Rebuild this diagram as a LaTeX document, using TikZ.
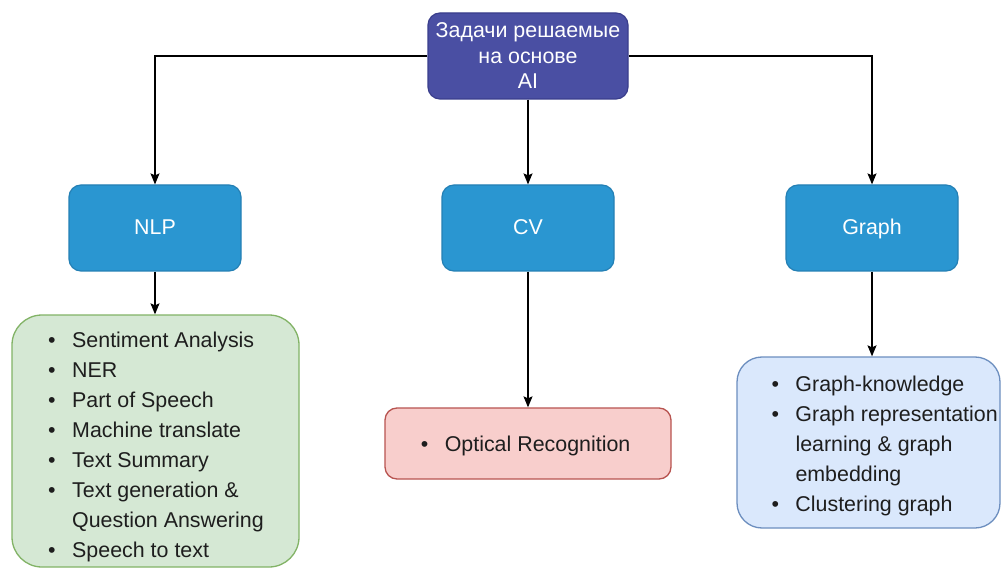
\documentclass[tikz,border=0pt]{standalone}
\usepackage{fontspec}
\setmainfont{Liberation Sans}
\usetikzlibrary{arrows.meta}
\definecolor{aifill}{HTML}{4A4FA3}
\definecolor{aidraw}{HTML}{3A3E8C}
\definecolor{catfill}{HTML}{2A96D1}
\definecolor{catdraw}{HTML}{2480B5}
\definecolor{greenfill}{HTML}{D5E8D4}
\definecolor{greendraw}{HTML}{82B366}
\definecolor{redfill}{HTML}{F8CECC}
\definecolor{reddraw}{HTML}{B85450}
\definecolor{bluefill}{HTML}{DAE8FC}
\definecolor{bluedraw}{HTML}{6C8EBF}
\definecolor{txt}{HTML}{1E1E1E}
\newcommand\bul{\makebox[24pt][l]{•}}
\newcommand\cont{\hspace*{24pt}}
\tikzset{
  rootbox/.style={draw=aidraw, fill=aifill, line width=1.2pt, rounded corners=12pt,
    minimum width=200pt, minimum height=86pt, text=white, align=center,
    font=\fontsize{21.4}{25.5}\selectfont},
  catbox/.style={draw=catdraw, fill=catfill, line width=1.2pt, rounded corners=12pt,
    minimum width=172pt, minimum height=86pt, text=white,
    text height=13pt, text depth=0pt,
    font=\fontsize{21.4}{25}\selectfont},
  listbox/.style={line width=1.3pt, inner sep=0pt},
  listtext/.style={anchor=west, inner sep=0pt, align=left, text=txt,
    font=\fontsize{21.4}{30}\selectfont},
  link/.style={draw=black, line width=1.2pt,
    -{Stealth[length=11pt, width=9pt, inset=2pt]}}
}
\begin{document}
\begin{tikzpicture}[x=1pt, y=-1pt]
\useasboundingbox (0,0) rectangle (1001,569);
\fill[white] (0,0) rectangle (1001,569);

% top level
\node[rootbox] (ai) at (528,56) {Задачи решаемые\\на основе\\AI};

% categories
\node[catbox] (nlp) at (155,228) {NLP};
\node[catbox] (cv) at (528,228) {CV};
\node[catbox] (graph) at (872,228) {Graph};

% task lists
\node[listbox, draw=greendraw, fill=greenfill, rounded corners=30pt,
  minimum width=287pt, minimum height=252pt] (nlpbox) at (155.5,441) {};
\node[listtext] (nlplist) at (48,447) {%
  \bul Sentiment Analysis\\
  \bul NER\\
  \bul Part of Speech\\
  \bul Machine translate\\
  \bul Text Summary\\
  \bul Text generation \&\\
  \cont Question Answering\\
  \bul Speech to text};

\node[listbox, draw=reddraw, fill=redfill, rounded corners=12pt,
  minimum width=286pt, minimum height=71pt] (cvbox) at (528,443.5) {};
\node[listtext] (cvlist) at (420.6,446) {\bul Optical Recognition};

\node[listbox, draw=bluedraw, fill=bluefill, rounded corners=25pt,
  minimum width=263pt, minimum height=171pt] (graphbox) at (868.5,442.5) {};
\node[listtext] (graphlist) at (771.3,446) {%
  \bul Graph-knowledge\\
  \bul Graph representation\\
  \cont learning \& graph\\
  \cont embedding\\
  \bul Clustering graph};

% connectors
\draw[link] (ai.west) -| (nlp.north);
\draw[link] (ai.south) -- (cv.north);
\draw[link] (ai.east) -| (graph.north);
\draw[link] (nlp.south) -- (nlp.south |- nlpbox.north);
\draw[link] (cv.south) -- (cv.south |- cvbox.north);
\draw[link] (graph.south) -- (graph.south |- graphbox.north);
\end{tikzpicture}
\end{document}
